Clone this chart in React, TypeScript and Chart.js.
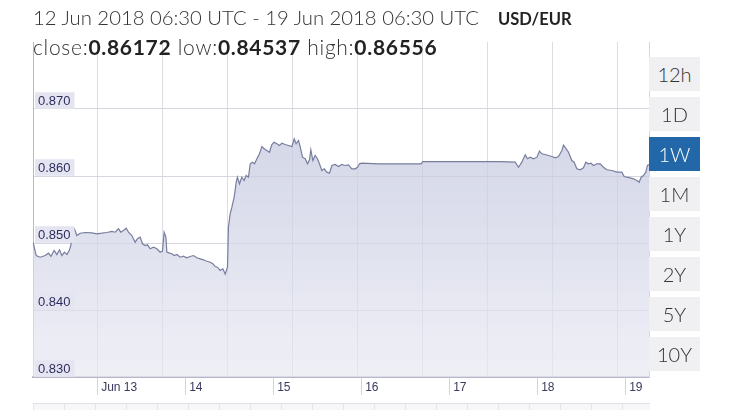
import React, { useEffect, useRef } from "react";
import { Chart, registerables } from "chart.js";

Chart.register(...registerables);

// time in fractional day-of-June (UTC); rate USD/EUR
const TIMES = [
  12.271, 12.307, 12.352, 12.409, 12.447, 12.474, 12.511, 12.542, 12.572, 12.599,
  12.628, 12.656, 12.682, 12.701, 12.716, 12.742, 12.769, 12.807, 12.864, 12.94,
  12.997, 13.053, 13.11, 13.167, 13.205, 13.242, 13.269, 13.299, 13.33, 13.356,
  13.394, 13.432, 13.458, 13.489, 13.515, 13.545, 13.572, 13.602, 13.64, 13.678,
  13.716, 13.742, 13.761, 13.781, 13.792, 13.822, 13.849, 13.875, 13.906, 13.943,
  13.981, 14.019, 14.057, 14.094, 14.133, 14.17, 14.208, 14.247, 14.284, 14.315,
  14.341, 14.367, 14.398, 14.428, 14.455, 14.481, 14.492, 14.511, 14.531, 14.557,
  14.58, 14.594, 14.617, 14.644, 14.67, 14.693, 14.719, 14.739, 14.765, 14.788,
  14.815, 14.844, 14.872, 14.898, 14.928, 14.958, 14.985, 15.011, 15.042, 15.072,
  15.099, 15.136, 15.174, 15.213, 15.239, 15.261, 15.288, 15.307, 15.333, 15.364,
  15.39, 15.413, 15.428, 15.451, 15.477, 15.503, 15.526, 15.553, 15.58, 15.61,
  15.64, 15.667, 15.705, 15.742, 15.781, 15.818, 15.856, 15.894, 15.932, 15.958,
  15.981, 16.008, 16.2, 16.4, 16.6, 16.68, 16.7, 17.0, 17.3, 17.58,
  17.75, 17.788, 17.826, 17.864, 17.89, 17.92, 17.958, 17.997, 18.026, 18.053,
  18.091, 18.128, 18.167, 18.205, 18.242, 18.281, 18.299, 18.33, 18.356, 18.394,
  18.42, 18.451, 18.489, 18.526, 18.553, 18.583, 18.61, 18.64, 18.678, 18.716,
  18.753, 18.792, 18.849, 18.906, 18.962, 18.989, 19.019, 19.057, 19.094, 19.133,
  19.159, 19.182, 19.208, 19.235, 19.253, 19.271,
];

const RATES = [
  0.85012, 0.84813, 0.84788, 0.84813, 0.84848, 0.84799, 0.84888, 0.84828, 0.84899, 0.84813,
  0.84863, 0.84828, 0.84888, 0.84963, 0.85137, 0.85212, 0.85112, 0.85146, 0.85157, 0.85152,
  0.85137, 0.85146, 0.85157, 0.85172, 0.85161, 0.85212, 0.85161, 0.85187, 0.85221, 0.85161,
  0.85112, 0.85012, 0.85063, 0.85087, 0.84988, 0.84963, 0.84973, 0.84913, 0.84937, 0.84913,
  0.84863, 0.84878, 0.85161, 0.85087, 0.84863, 0.84848, 0.84839, 0.84813, 0.84828, 0.84788,
  0.84803, 0.84779, 0.84799, 0.84813, 0.84779, 0.84764, 0.84749, 0.84728, 0.84713, 0.8469,
  0.84649, 0.84639, 0.8459, 0.84615, 0.84537, 0.84639, 0.85236, 0.85436, 0.85534, 0.85684,
  0.85907, 0.85982, 0.85884, 0.85982, 0.85933, 0.86007, 0.85982, 0.86182, 0.86206, 0.86182,
  0.86257, 0.86331, 0.8644, 0.86406, 0.86381, 0.86355, 0.8647, 0.86504, 0.86481, 0.86455,
  0.8649, 0.8647, 0.86455, 0.8644, 0.86556, 0.86481, 0.8653, 0.8644, 0.86281, 0.86257,
  0.86182, 0.86242, 0.86391, 0.86231, 0.86306, 0.86257, 0.86182, 0.86082, 0.86107, 0.86057,
  0.86042, 0.86157, 0.86172, 0.86142, 0.86172, 0.86157, 0.86167, 0.86107, 0.86107, 0.86131,
  0.86182, 0.86191, 0.86182, 0.86182, 0.86182, 0.86182, 0.86216, 0.86216, 0.86216, 0.86216,
  0.86206, 0.86131, 0.86206, 0.86316, 0.86257, 0.86281, 0.86257, 0.86281, 0.8637, 0.86331,
  0.86321, 0.86306, 0.86291, 0.86272, 0.86291, 0.86381, 0.8646, 0.86406, 0.86355, 0.86231,
  0.86206, 0.86107, 0.86093, 0.86122, 0.86206, 0.86182, 0.86191, 0.86157, 0.86182, 0.86182,
  0.86131, 0.86093, 0.86082, 0.86057, 0.86057, 0.85993, 0.85982, 0.85973, 0.85958, 0.85933,
  0.85907, 0.85982, 0.86007, 0.86057, 0.86157, 0.86172,
];

const DAY_TICKS = [13, 14, 15, 16, 17, 18, 19];
const DAY_LABELS = ["Jun 13", "14", "15", "16", "17", "18", "19"];
const Y_TICKS = [0.83, 0.84, 0.85, 0.86, 0.87];
const X_MIN = 12.2708;
const X_MAX = 19.2708;
const Y_MIN = 0.83;
const Y_MAX = 0.88;
const GRID_STEP_DAYS = 0.7386;

const RANGES = ["12h", "1D", "1W", "1M", "1Y", "2Y", "5Y", "10Y"];
const SELECTED = "1W";

const TITLE = "12 Jun 2018 06:30 UTC - 19 Jun 2018 06:30 UTC";
const PAIR = "USD/EUR";
const STATS = [
  ["close:", "0.86172"],
  ["low:", "0.84537"],
  ["high:", "0.86556"],
];

const HEAD_FONT = "Lato, 'Open Sans', 'DejaVu Sans', sans-serif";

export default function App() {
  const ref = useRef<HTMLCanvasElement | null>(null);

  useEffect(() => {
    const canvas = ref.current;
    if (!canvas) return;
    const chart = new Chart(canvas, {
      type: "line",
      data: {
        datasets: [
          {
            data: TIMES.map((t, i) => ({ x: t, y: RATES[i] })),
            borderColor: "#787e9e",
            borderWidth: 1.2,
            pointRadius: 0,
            tension: 0,
            fill: "start",
            backgroundColor: (ctx: any) => {
              const a = ctx.chart.chartArea;
              if (!a) return "rgba(210,212,228,0.7)";
              const g = ctx.chart.ctx.createLinearGradient(0, a.top, 0, a.bottom);
              g.addColorStop(0, "rgba(190,194,218,0.78)");
              g.addColorStop(0.5, "rgba(206,209,229,0.72)");
              g.addColorStop(1, "rgba(232,233,242,0.7)");
              return g;
            },
          },
        ],
      },
      options: {
        animation: false,
        responsive: false,
        layout: { padding: { left: 33, top: 42, right: 80, bottom: 0 } },
        plugins: { legend: { display: false }, tooltip: { enabled: false } },
        scales: {
          x: {
            type: "linear",
            position: "bottom",
            min: X_MIN,
            max: X_MAX,
            afterBuildTicks: (s: any) => {
              s.ticks = DAY_TICKS.map((v) => ({ value: v }));
            },
            afterFit: (s: any) => {
              s.height = 33;
            },
            grid: { drawOnChartArea: false, tickLength: 18, color: "#d4d4dc" },
            border: { color: "#b6b8ca", width: 2 },
            ticks: {
              autoSkip: false,
              maxRotation: 0,
              align: "start",
              labelOffset: 4,
              padding: -15,
              color: "#3a3a5e",
              font: { family: "'Liberation Sans', Arial, sans-serif", size: 12 },
              callback: (_v: any, i: number) => DAY_LABELS[i],
            },
          },
          x2: {
            type: "linear",
            position: "top",
            min: X_MIN,
            max: X_MAX,
            afterBuildTicks: (s: any) => {
              const t: any[] = [];
              for (let v = X_MIN; v <= X_MAX + 1e-9; v += GRID_STEP_DAYS) t.push({ value: v });
              s.ticks = t;
            },
            afterFit: (s: any) => {
              s.height = 0;
            },
            grid: { drawTicks: false, color: "#dcdce3" },
            border: { display: false },
            ticks: { display: false },
          },
          y: {
            type: "linear",
            position: "left",
            min: Y_MIN,
            max: Y_MAX,
            afterBuildTicks: (s: any) => {
              s.ticks = Y_TICKS.map((v) => ({ value: v }));
            },
            afterFit: (s: any) => {
              s.width = 0;
            },
            grid: { drawTicks: false, color: "#d6d6de" },
            border: { color: "#b8bacb", width: 1 },
            ticks: {
              z: 1,
              mirror: true,
              padding: 5,
              labelOffset: -8,
              color: "#2e2e5e",
              font: { family: "'Liberation Sans', Arial, sans-serif", size: 13 },
              showLabelBackdrop: true,
              backdropColor: "#e5e5f2",
              backdropPadding: { top: 1, bottom: 0, left: 3, right: 4 },
              callback: (v: any) => Number(v).toFixed(3),
            },
          },
          y2: {
            type: "linear",
            position: "right",
            min: Y_MIN,
            max: Y_MAX,
            afterFit: (s: any) => {
              s.width = 0;
            },
            grid: { display: false },
            border: { color: "#d6d6de", width: 1 },
            ticks: { display: false },
          },
        },
      } as any,
    });
    return () => chart.destroy();
  }, []);

  return (
    <div
      style={{
        position: "absolute",
        left: 0,
        top: 0,
        width: 729,
        height: 410,
        background: "#fff",
        overflow: "hidden",
      }}
    >
      <canvas
        ref={ref}
        width={729}
        height={410}
        style={{ position: "absolute", left: 0, top: 0, width: 729, height: 410 }}
      />
      <div
        style={{
          position: "absolute",
          left: 33,
          top: 3,
          fontFamily: HEAD_FONT,
          fontSize: 20.3,
          lineHeight: "28px",
          color: "#333",
          fontWeight: 300,
          whiteSpace: "nowrap",
        }}
      >
        <div>
          {TITLE}
          <span style={{ fontWeight: 700, fontSize: 16.5, color: "#222", marginLeft: 19 }}>{PAIR}</span>
        </div>
        <div style={{ fontSize: 21, letterSpacing: "0.7px" }}>
          {STATS.map(([k, v], i) => (
            <span key={k}>
              {i > 0 ? " " : ""}
              {k}
              <b style={{ fontWeight: 700, color: "#222" }}>{v}</b>
            </span>
          ))}
        </div>
      </div>
      {RANGES.map((r, i) => (
        <div
          key={r}
          style={{
            position: "absolute",
            left: 649,
            top: 57 + i * 40,
            width: 51,
            height: 34,
            lineHeight: "34px",
            textAlign: "center",
            fontFamily: HEAD_FONT,
            fontSize: 20,
            fontWeight: 300,
            color: r === SELECTED ? "#fff" : "#333",
            background: r === SELECTED ? "#2268a9" : "#f0f0f3",
          }}
        >
          {r}
        </div>
      ))}
      <div
        style={{
          position: "absolute",
          left: 33,
          top: 403,
          width: 617,
          height: 7,
          borderTop: "1px solid #e0e0e6",
          background:
            "repeating-linear-gradient(90deg, #e4e4ea 0px, #e4e4ea 1px, #f7f7f9 1px, #f7f7f9 31px)",
        }}
      />
    </div>
  );
}
